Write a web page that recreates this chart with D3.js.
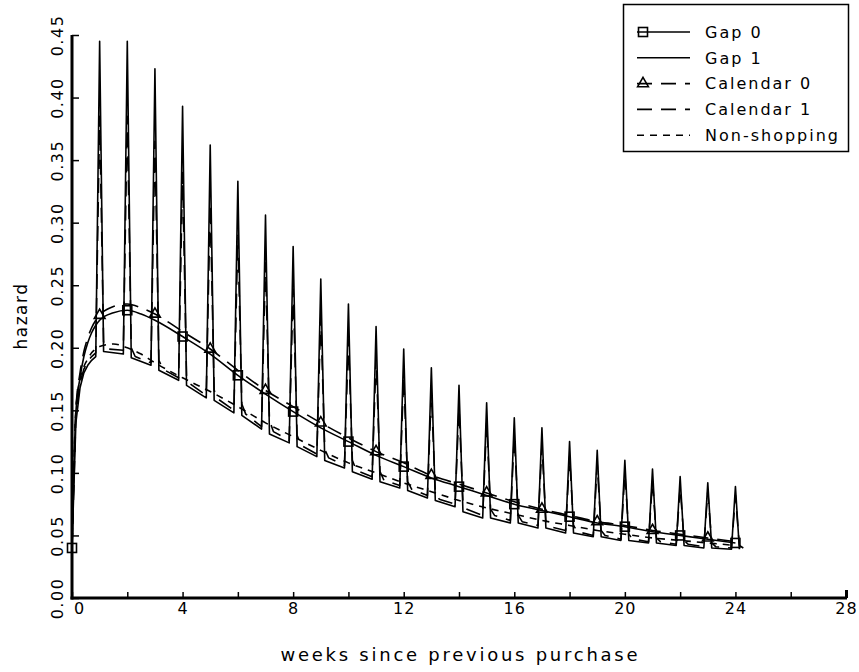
<!DOCTYPE html>
<html><head><meta charset="utf-8">
<script src="https://cdn.jsdelivr.net/npm/d3@7"></script>
<style>
body{margin:0;background:#fff;}
svg{display:block;}
text{font-family:"DejaVu Sans",sans-serif;fill:#000;}
</style></head><body>
<svg id="chart" width="859" height="672"></svg>
<script>
// ---------------- data ----------------
const xTickValues = [0,2,4,6,8,10,12,14,16,18,20,22,24,26,28];
const yTickValues = [0,0.05,0.10,0.15,0.20,0.25,0.30,0.35,0.40,0.45];
const seriesNames = ["Gap 0","Gap 1","Calendar 0","Calendar 1","Non-shopping"];

// smooth series: time (weeks) and values
const smoothT = [0,0.14,0.29,0.43,0.57,0.71,0.86,1,1.5,2,2.5,3,4,5,6,7,8,9,10,11,12,13,14,15,16,17,18,19,20,21,22,23,24];
const gap0 = [0.040,0.148,0.176,0.193,0.204,0.212,0.218,0.222,0.228,0.230,0.227,0.222,0.209,0.195,0.178,0.163,0.149,0.136,0.125,0.114,0.105,0.096,0.089,0.082,0.075,0.070,0.065,0.060,0.057,0.053,0.050,0.047,0.044];
const calendar0 = [0.040,0.150,0.180,0.197,0.208,0.216,0.222,0.226,0.233,0.235,0.232,0.227,0.213,0.199,0.182,0.166,0.153,0.140,0.128,0.117,0.108,0.098,0.091,0.084,0.077,0.071,0.066,0.061,0.058,0.054,0.051,0.048,0.045];
const nonShopping = [0.040,0.150,0.175,0.185,0.191,0.196,0.199,0.201,0.203,0.200,0.195,0.188,0.176,0.165,0.153,0.140,0.129,0.118,0.108,0.100,0.092,0.085,0.078,0.072,0.067,0.062,0.058,0.054,0.051,0.048,0.046,0.044,0.042];
const gap0MarkWeeks = [0,2,4,6,8,10,12,14,16,18,20,22,24];
const cal0MarkWeeks = [1,3,5,7,9,11,13,15,17,19,21,23];

// spiky series (daily resolution: one day = 1/7 week)
const day = 1/7;
const earlyT = [0,0.14,0.29,0.43,0.57,0.71,0.86];
const spikeWeeks = [1,2,3,4,5,6,7,8,9,10,11,12,13,14,15,16,17,18,19,20,21,22,23,24];
const gap1Early = [0.040,0.140,0.168,0.180,0.186,0.190,0.193];
const gap1Peak = [0.445,0.445,0.423,0.393,0.362,0.333,0.306,0.281,0.255,0.235,0.217,0.199,0.184,0.170,0.156,0.144,0.136,0.125,0.118,0.110,0.103,0.097,0.092,0.089];
const gap1BaseStart = [0.197,0.192,0.182,0.170,0.158,0.146,0.131,0.121,0.110,0.101,0.093,0.086,0.078,0.069,0.064,0.060,0.056,0.052,0.049,0.046,0.044,0.042,0.040,0.039];
const gap1BaseEnd = [0.195,0.186,0.174,0.160,0.148,0.135,0.124,0.113,0.104,0.095,0.088,0.080,0.073,0.064,0.060,0.056,0.052,0.049,0.046,0.044,0.042,0.040,0.039];

const cal1Early = [0.040,0.145,0.172,0.183,0.189,0.193,0.196];
const cal1Peak = [0.385,0.385,0.365,0.340,0.315,0.290,0.268,0.247,0.225,0.207,0.192,0.177,0.164,0.152,0.140,0.130,0.122,0.113,0.107,0.100,0.094,0.089,0.085,0.082];
const cal1Decay = [0.205,0.200,0.190,0.178,0.166,0.155,0.142,0.130,0.119,0.110,0.101,0.093,0.085,0.077,0.071,0.066,0.062,0.058,0.054,0.051,0.048,0.046,0.044,0.042];
const cal1BaseStart = [0.199,0.193,0.183,0.171,0.159,0.147,0.133,0.122,0.112,0.102,0.094,0.087,0.079,0.071,0.066,0.061,0.057,0.053,0.050,0.047,0.045,0.043,0.041,0.040];
const cal1BaseEnd = [0.198,0.188,0.176,0.162,0.150,0.137,0.126,0.115,0.106,0.097,0.090,0.082,0.075,0.066,0.062,0.058,0.054,0.050,0.047,0.045,0.043,0.041,0.040];

// ---------------- drawing ----------------
const svg = d3.select("#chart");
const x = d3.scaleLinear().domain([0,28]).range([72,846]);
const y = d3.scaleLinear().domain([0,0.45]).range([598,35]);

const smoothLine = d3.line().x(d=>x(d[0])).y(d=>y(d[1])).curve(d3.curveMonotoneX);
const straightLine = d3.line().x(d=>x(d[0])).y(d=>y(d[1]));

function zipT(ts, vs){ return ts.map((t,i)=>[t,vs[i]]); }

function spikeSeries(early, peaks, decay, baseStart, baseEnd){
  const pts = zipT(earlyT, early);
  spikeWeeks.forEach((k,i)=>{
    pts.push([k, peaks[i]]);
    if (decay){
      pts.push([k+day, decay[i]]);
      pts.push([k+2*day, baseStart[i]]);
    } else {
      pts.push([k+day, baseStart[i]]);
    }
    if (i < baseEnd.length) pts.push([k+1-day, baseEnd[i]]);
  });
  return pts;
}

const g = svg.append("g");
const lw = 1.6;

// Non-shopping
g.append("path").attr("d", smoothLine(zipT(smoothT, nonShopping)))
  .attr("fill","none").attr("stroke","#000").attr("stroke-width",lw).attr("stroke-dasharray","7,6");
// Calendar 1
g.append("path").attr("d", straightLine(spikeSeries(cal1Early, cal1Peak, cal1Decay, cal1BaseStart, cal1BaseEnd)))
  .attr("fill","none").attr("stroke","#000").attr("stroke-width",lw).attr("stroke-dasharray","15,9").attr("stroke-linejoin","round");
// Gap 1
g.append("path").attr("d", straightLine(spikeSeries(gap1Early, gap1Peak, null, gap1BaseStart, gap1BaseEnd)))
  .attr("fill","none").attr("stroke","#000").attr("stroke-width",lw).attr("stroke-linejoin","round");
// Calendar 0
g.append("path").attr("d", smoothLine(zipT(smoothT, calendar0)))
  .attr("fill","none").attr("stroke","#000").attr("stroke-width",lw).attr("stroke-dasharray","15,9");
// Gap 0
g.append("path").attr("d", smoothLine(zipT(smoothT, gap0)))
  .attr("fill","none").attr("stroke","#000").attr("stroke-width",lw);

// markers
const sq = 9;
function valAt(ts, vs, t){ return vs[ts.indexOf(t)]; }
g.selectAll("rect.m").data(gap0MarkWeeks).join("rect").attr("class","m")
  .attr("x", d=>x(d)-sq/2).attr("y", d=>y(valAt(smoothT,gap0,d))-sq/2)
  .attr("width",sq).attr("height",sq).attr("fill","none").attr("stroke","#000").attr("stroke-width",lw);
const tri = d3.symbol().type(d3.symbolTriangle).size(50);
g.selectAll("path.t").data(cal0MarkWeeks).join("path").attr("class","t")
  .attr("d", tri)
  .attr("transform", d=>`translate(${x(d)},${y(valAt(smoothT,calendar0,d))})`)
  .attr("fill","none").attr("stroke","#000").attr("stroke-width",lw);

// axes
const xAxis = d3.axisBottom(x).tickValues(xTickValues).tickSizeInner(-6).tickSizeOuter(0)
  .tickPadding(5).tickFormat(d => d % 4 === 0 ? d : "");
const gx = svg.append("g").attr("transform","translate(0,598)").call(xAxis);
gx.select(".domain").attr("stroke-width",3).attr("d","M70.5,0H847");
gx.selectAll(".tick line").attr("stroke-width",1.5);
gx.selectAll(".tick text").attr("font-size",16).attr("font-family","DejaVu Sans").attr("letter-spacing","1px")
  .attr("dx", d => d===0 ? 7 : 0);
gx.selectAll(".tick").filter(d=>d===28).select("line").attr("y2",-8).attr("stroke-width",3);

const yAxis = d3.axisLeft(y).tickValues(yTickValues).tickSizeInner(-7).tickSizeOuter(0).tickFormat(d3.format(".2f"));
const gy = svg.append("g").attr("transform","translate(72,0)").call(yAxis);
gy.select(".domain").attr("stroke-width",3).attr("d","M0,35V599.5");
gy.selectAll(".tick line").attr("stroke-width",1.5);
gy.selectAll(".tick text").attr("x",null).attr("dy",null)
  .attr("transform","translate(-9,0) rotate(-90)").attr("text-anchor","middle")
  .attr("font-size",16).attr("font-family","DejaVu Sans").attr("letter-spacing","1.5px");

// axis titles
svg.append("text").attr("transform","translate(27,316) rotate(-90)").attr("text-anchor","middle")
  .attr("font-size",17).attr("letter-spacing","1.5px").text("hazard");
svg.append("text").attr("x",459).attr("y",661).attr("text-anchor","middle")
  .attr("font-size",18).attr("textLength",357).attr("lengthAdjust","spacing").text("weeks since previous purchase");

// legend
const lg = svg.append("g");
lg.append("rect").attr("x",623.5).attr("y",4.5).attr("width",225).attr("height",147)
  .attr("fill","#fff").attr("stroke","#000").attr("stroke-width",1.5);
const legendDash = [null,null,"15,9","15,9","7,6"];
seriesNames.forEach((name,i)=>{
  const ly = 32 + i*25.8;
  lg.append("line").attr("x1",637).attr("x2",690).attr("y1",ly).attr("y2",ly)
    .attr("stroke","#000").attr("stroke-width",lw).attr("stroke-dasharray",legendDash[i]);
  if (i===0) lg.append("rect").attr("x",643-sq/2).attr("y",ly-sq/2).attr("width",sq).attr("height",sq)
    .attr("fill","none").attr("stroke","#000").attr("stroke-width",lw);
  if (i===2) lg.append("path").attr("d",tri).attr("transform",`translate(643,${ly})`)
    .attr("fill","none").attr("stroke","#000").attr("stroke-width",lw);
  lg.append("text").attr("x",705).attr("y",ly).attr("dy","0.36em").attr("font-size",16)
    .attr("letter-spacing","2px").text(name);
});
</script></body></html>
